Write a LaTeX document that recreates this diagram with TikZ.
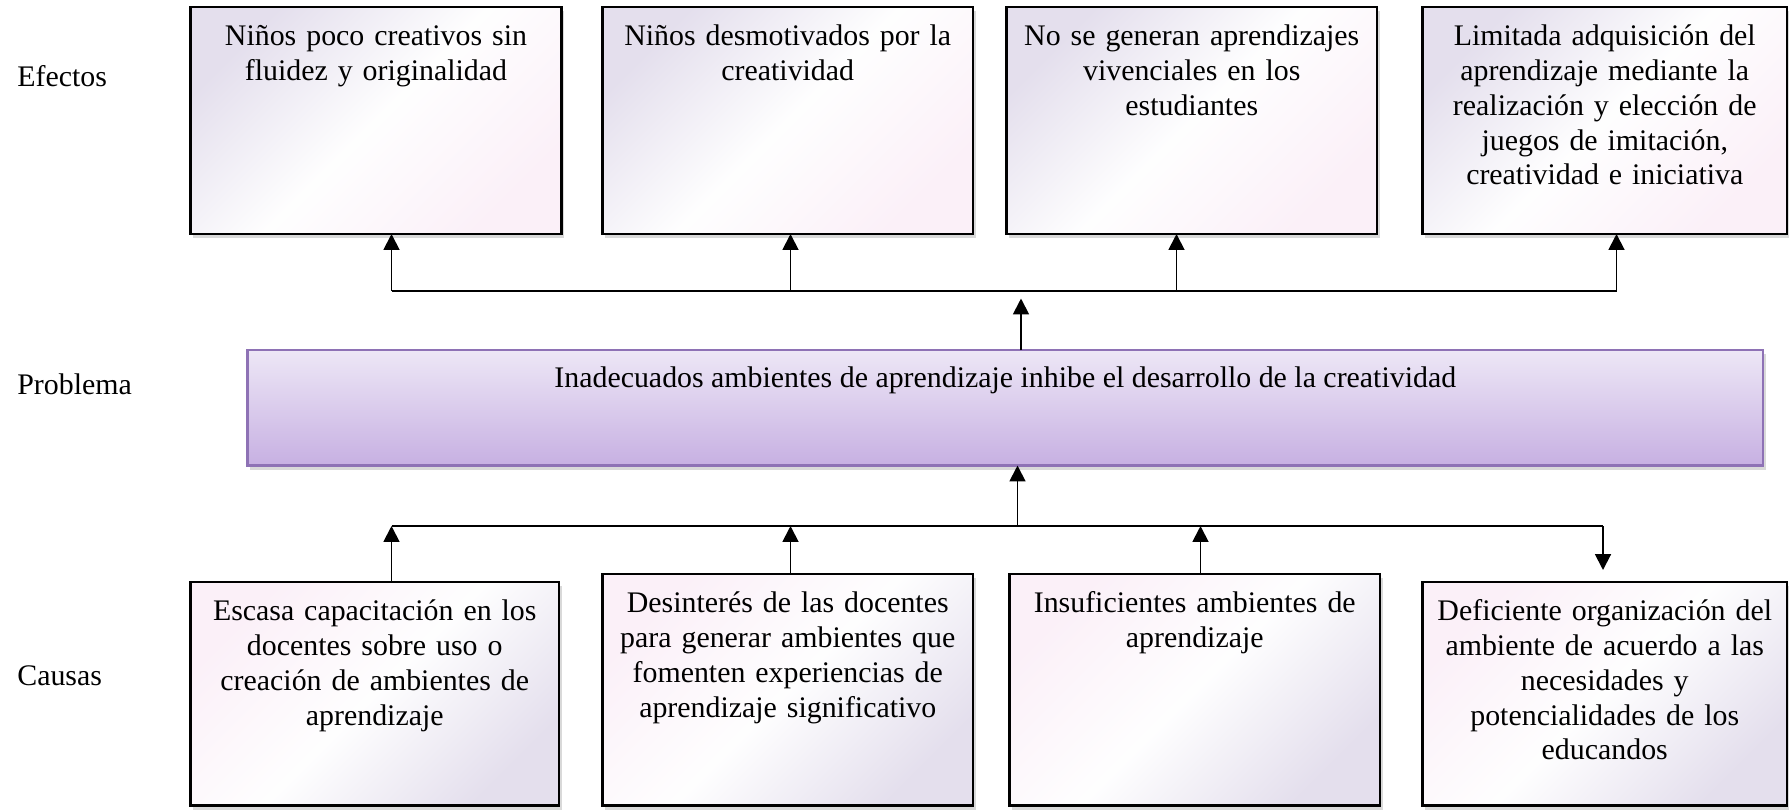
\documentclass[tikz,border=0pt]{standalone}
\usepackage{fontspec}
\setmainfont{Liberation Serif}
\usetikzlibrary{arrows.meta}
\usetikzlibrary{positioning}
\usetikzlibrary{shadows}

\definecolor{lavbox}{RGB}{228,223,237}
\definecolor{pinkbox}{RGB}{251,240,248}
\definecolor{probtop}{RGB}{237,231,246}
\definecolor{probbot}{RGB}{199,176,226}
\definecolor{probline}{RGB}{142,114,181}

\begin{document}
\begin{tikzpicture}[
  font=\fontsize{17}{19.8}\selectfont,
  >={Triangle[width=9pt,length=9pt]},
  shade/.style={drop shadow={opacity=0.3, shadow xshift=0.5mm, shadow yshift=-0.8mm}},
  efbox/.style={shade, draw=black, line width=1.4pt, anchor=north west, inner sep=0pt, outer sep=0pt,
    minimum height=4.54cm, top color=lavbox, bottom color=pinkbox, middle color=white!97!lavbox, shading angle=45},
  cabox/.style={shade, draw=black, line width=1.4pt, anchor=north west, inner sep=0pt, outer sep=0pt,
    top color=pinkbox, bottom color=lavbox, middle color=white!97!lavbox, shading angle=45},
  probbox/.style={shade, draw=probline, line width=1.3pt, anchor=north west, inner sep=0pt, outer sep=0pt,
    top color=probtop, bottom color=probbot},
  boxtxt/.style={align=center, text width=7.2cm, inner sep=0pt},
  lbl/.style={anchor=base west, inner sep=0pt},
  conn/.style={line width=1.1pt}
]
\useasboundingbox (0,0) rectangle (35.78,-16.18);

\node[lbl] (efectos) at (0.34,-1.73) {Efectos};
\node[lbl] (problema) at (0.34,-7.89) {Problema};
\node[lbl] (causas) at (0.34,-13.7) {Causas};

\node[efbox, minimum width=7.42cm] (e1) at (3.81,-0.14) {};
\node[efbox, minimum width=7.41cm] (e2) at (12.05,-0.14) {};
\node[efbox, minimum width=7.41cm] (e3) at (20.13,-0.14) {};
\node[efbox, minimum width=7.29cm] (e4) at (28.45,-0.14) {};
\node[boxtxt, below=8pt of e1.north] (e1t) {\strut Niños poco creativos sin\\ fluidez y originalidad};
\node[boxtxt, below=8pt of e2.north] (e2t) {\strut Niños desmotivados por la\\ creatividad};
\node[boxtxt, below=8pt of e3.north] (e3t) {\strut No se generan aprendizajes\\ vivenciales en los\\ estudiantes};
\node[boxtxt, below=8pt of e4.north] (e4t) {\strut Limitada adquisición del\\ aprendizaje mediante la\\ realización y elección de\\ juegos de imitación,\\ creatividad e iniciativa};

\node[probbox, minimum width=30.31cm, minimum height=2.31cm] (p) at (4.95,-7.0) {};
\node[below=7.5pt of p.north, inner sep=0pt] (pt) {\strut Inadecuados ambientes de aprendizaje inhibe el desarrollo de la creatividad};

\node[cabox, minimum width=7.37cm, minimum height=4.47cm] (c1) at (3.81,-11.64) {};
\node[cabox, minimum width=7.41cm, minimum height=4.63cm] (c2) at (12.05,-11.48) {};
\node[cabox, minimum width=7.41cm, minimum height=4.63cm] (c3) at (20.19,-11.48) {};
\node[cabox, minimum width=7.29cm, minimum height=4.47cm] (c4) at (28.45,-11.64) {};
\node[boxtxt, below=8pt of c1.north] (c1t) {\strut Escasa capacitación en los\\ docentes sobre uso o\\ creación de ambientes de\\ aprendizaje};
\node[boxtxt, below=8pt of c2.north] (c2t) {\strut Desinterés de las docentes\\ para generar ambientes que\\ fomenten experiencias de\\ aprendizaje significativo};
\node[boxtxt, below=8pt of c3.north] (c3t) {\strut Insuficientes ambientes de\\ aprendizaje};
\node[boxtxt, below=8pt of c4.north] (c4t) {\strut Deficiente organización del\\ ambiente de acuerdo a las\\ necesidades y\\ potencialidades de los\\ educandos};

\foreach \n/\x in {e1/7.83, e2/15.81, e3/23.53, e4/32.33} {
  \coordinate (f\n) at (\x,-5.82);
  \draw[conn,->] (f\n) -- (f\n |- \n.south);
}
\draw[conn] (fe1) -- (fe4);
\coordinate (ptop) at (20.42,-5.97);
\draw[conn,->] (ptop |- p.north) -- (ptop);

\foreach \n/\x in {c1/7.83, c2/15.81, c3/24.01} {
  \coordinate (f\n) at (\x,-10.52);
  \draw[conn,->] (f\n |- \n.north) -- (f\n);
}
\coordinate (fc4) at (32.06,-10.52);
\coordinate (tc4) at (32.06,-11.40);
\draw[conn,->] (fc4) -- (tc4);
\draw[conn] (fc1) -- (fc4);
\coordinate (pbot) at (20.35,-10.52);
\draw[conn,->] (pbot) -- (pbot |- p.south);
\end{tikzpicture}
\end{document}
